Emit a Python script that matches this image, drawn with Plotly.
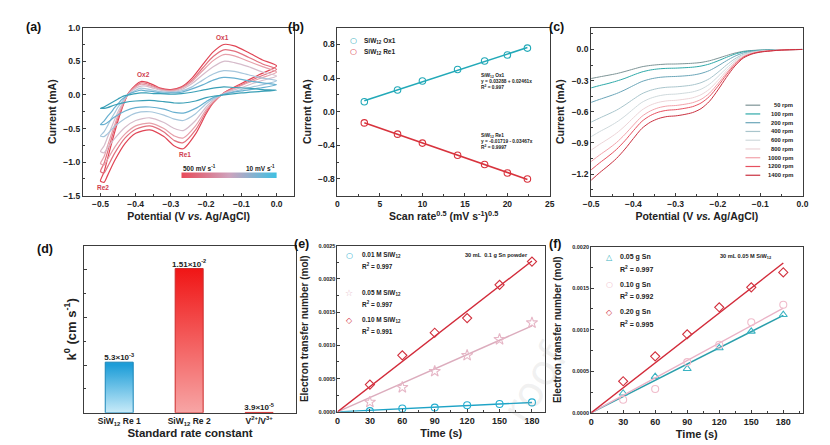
import numpy as np
import plotly.graph_objects as go
from plotly.subplots import make_subplots

W, H = 830, 445
FONT = "Liberation Sans"
DARK = "#222222"

# ---------------- (a) cyclic voltammetry ----------------
cv_rates = ["500", "400", "300", "200", "100", "50", "10"]
cv_potential = [0.0, -0.05, -0.10, -0.15, -0.18, -0.20, -0.23, -0.265, -0.29, -0.32, -0.36, -0.40, -0.43, -0.46,
                -0.48, -0.49, -0.50, -0.49, -0.48, -0.47, -0.46, -0.45, -0.44, -0.43, -0.42, -0.40, -0.385, -0.37,
                -0.35, -0.33, -0.30, -0.27, -0.24, -0.21, -0.18, -0.15, -0.12, -0.08, -0.04, 0.0]
cv_500 = [0.43, 0.30, 0.17, 0.03, -0.12, -0.28, -0.58, -0.80, -0.76, -0.62, -0.52, -0.57, -0.72, -0.98, -1.20, -1.30,
          -1.28, -1.15, -0.95, -0.75, -0.56, -0.38, -0.22, -0.08, 0.03, 0.15, 0.20, 0.19, 0.15, 0.10, 0.08, 0.12,
          0.25, 0.45, 0.64, 0.75, 0.73, 0.63, 0.52, 0.43]
cv_400 = [0.38, 0.27, 0.15, 0.03, -0.11, -0.25, -0.52, -0.71, -0.68, -0.55, -0.46, -0.51, -0.64, -0.87, -1.07, -1.16,
          -1.14, -1.02, -0.85, -0.67, -0.50, -0.34, -0.20, -0.07, 0.03, 0.13, 0.18, 0.17, 0.13, 0.09, 0.07, 0.11,
          0.22, 0.40, 0.57, 0.67, 0.65, 0.56, 0.46, 0.38]
cv_300 = [0.34, 0.24, 0.14, 0.02, -0.10, -0.22, -0.46, -0.64, -0.61, -0.50, -0.42, -0.46, -0.58, -0.78, -0.96, -1.04,
          -1.02, -0.92, -0.76, -0.60, -0.45, -0.30, -0.18, -0.06, 0.02, 0.12, 0.16, 0.15, 0.12, 0.08, 0.06, 0.10,
          0.20, 0.36, 0.51, 0.60, 0.58, 0.50, 0.42, 0.34]
cv_200 = [0.28, 0.20, 0.11, 0.02, -0.08, -0.18, -0.38, -0.53, -0.50, -0.41, -0.34, -0.38, -0.48, -0.65, -0.79, -0.86,
          -0.84, -0.76, -0.63, -0.50, -0.37, -0.25, -0.15, -0.05, 0.02, 0.10, 0.13, 0.13, 0.10, 0.07, 0.05, 0.08,
          0.17, 0.30, 0.42, 0.50, 0.48, 0.42, 0.34, 0.28]
cv_100 = [0.21, 0.14, 0.08, 0.01, -0.06, -0.13, -0.28, -0.38, -0.36, -0.30, -0.25, -0.27, -0.35, -0.47, -0.58, -0.62,
          -0.61, -0.55, -0.46, -0.36, -0.27, -0.18, -0.11, -0.04, 0.01, 0.07, 0.10, 0.09, 0.07, 0.05, 0.04, 0.06,
          0.12, 0.22, 0.31, 0.36, 0.35, 0.30, 0.25, 0.21]
cv_50 = [0.15, 0.10, 0.06, 0.01, -0.04, -0.10, -0.20, -0.27, -0.26, -0.21, -0.18, -0.19, -0.24, -0.33, -0.41, -0.44,
         -0.44, -0.39, -0.32, -0.26, -0.19, -0.13, -0.07, -0.03, 0.01, 0.05, 0.07, 0.06, 0.05, 0.03, 0.03, 0.04,
         0.09, 0.15, 0.22, 0.26, 0.25, 0.21, 0.18, 0.15]
cv_10 = [0.07, 0.05, 0.03, 0.00, -0.02, -0.04, -0.09, -0.12, -0.12, -0.10, -0.08, -0.09, -0.11, -0.15, -0.19, -0.20,
         -0.20, -0.18, -0.15, -0.12, -0.09, -0.06, -0.03, -0.01, 0.00, 0.02, 0.03, 0.03, 0.02, 0.02, 0.01, 0.02,
         0.04, 0.07, 0.10, 0.12, 0.11, 0.10, 0.08, 0.07]
cv_currents = [cv_500, cv_400, cv_300, cv_200, cv_100, cv_50, cv_10]
cv_colors = ["#e04454", "#e2707e", "#e6a0aa", "#d6bccb", "#a6c6dc", "#68b0d0", "#3a9fb6"]
cv_peaks = ["Ox1", "Ox2", "Re1", "Re2"]
cv_peak_pos = [(-0.154, 0.86), (-0.377, 0.30), (-0.26, -0.89), (-0.494, -1.38)]

# ---------------- (b) peak current vs sqrt(scan rate) ----------------
scan_rate_sqrt = [3.16, 7.07, 10.0, 14.14, 17.32, 20.0, 22.36]
ox1_current = [0.118, 0.259, 0.365, 0.502, 0.604, 0.675, 0.757]
re1_current = [-0.133, -0.267, -0.373, -0.518, -0.627, -0.729, -0.800]
b_names = ["SiW<sub>12</sub> Ox1", "SiW<sub>12</sub> Re1"]
b_eq = ["SiW<sub>12</sub> Ox1<br>y = 0.03288 + 0.02461x<br>R<sup>2</sup> = 0.997",
        "SiW<sub>12</sub> Re1<br>y = -0.01719 - 0.03467x<br>R<sup>2</sup> = 0.9997"]
b_colors = ["#22a9b8", "#d8333d"]

# ---------------- (c) rotating disk LSV ----------------
lsv_potential = [-0.50, -0.48, -0.46, -0.44, -0.42, -0.40, -0.38, -0.36, -0.34, -0.32, -0.30, -0.28, -0.26,
                 -0.24, -0.22, -0.20, -0.18, -0.16, -0.14, -0.12, -0.10, -0.05, 0.0]
lsv_labels = ["50 rpm", "100 rpm", "200 rpm", "400 rpm", "600 rpm", "800 rpm", "1000 rpm", "1200 rpm", "1400 rpm"]
lsv_50 = [-0.280, -0.264, -0.249, -0.233, -0.212, -0.189, -0.167, -0.154, -0.146, -0.141, -0.140, -0.137, -0.133,
          -0.125, -0.109, -0.085, -0.059, -0.035, -0.018, -0.010, -0.006, -0.001, 0.0]
lsv_100 = [-0.370, -0.348, -0.328, -0.305, -0.278, -0.246, -0.217, -0.198, -0.187, -0.182, -0.180, -0.176, -0.171,
           -0.160, -0.140, -0.110, -0.076, -0.045, -0.023, -0.013, -0.007, -0.002, 0.0]
lsv_200 = [-0.510, -0.481, -0.454, -0.425, -0.389, -0.348, -0.309, -0.285, -0.270, -0.263, -0.260, -0.255, -0.247,
           -0.231, -0.203, -0.159, -0.109, -0.065, -0.034, -0.018, -0.010, -0.003, 0.0]
lsv_400 = [-0.700, -0.661, -0.624, -0.585, -0.535, -0.479, -0.427, -0.394, -0.374, -0.364, -0.360, -0.353, -0.342,
           -0.320, -0.281, -0.220, -0.151, -0.090, -0.047, -0.025, -0.014, -0.004, 0.0]
lsv_600 = [-0.840, -0.792, -0.749, -0.701, -0.642, -0.574, -0.510, -0.471, -0.447, -0.434, -0.430, -0.421, -0.409,
           -0.383, -0.335, -0.262, -0.181, -0.108, -0.056, -0.030, -0.017, -0.004, 0.0]
lsv_800 = [-0.970, -0.914, -0.863, -0.807, -0.737, -0.658, -0.584, -0.537, -0.509, -0.495, -0.490, -0.480, -0.466,
           -0.436, -0.382, -0.299, -0.206, -0.123, -0.064, -0.034, -0.020, -0.005, 0.0]
lsv_1000 = [-1.080, -1.017, -0.960, -0.897, -0.818, -0.729, -0.645, -0.593, -0.561, -0.545, -0.540, -0.529, -0.513,
            -0.481, -0.421, -0.329, -0.227, -0.135, -0.070, -0.038, -0.022, -0.005, 0.0]
lsv_1200 = [-1.160, -1.093, -1.031, -0.963, -0.879, -0.783, -0.693, -0.637, -0.603, -0.586, -0.580, -0.568, -0.551,
            -0.516, -0.452, -0.354, -0.244, -0.145, -0.075, -0.041, -0.023, -0.006, 0.0]
lsv_1400 = [-1.260, -1.188, -1.122, -1.050, -0.960, -0.858, -0.761, -0.701, -0.665, -0.646, -0.640, -0.627, -0.608,
            -0.570, -0.499, -0.390, -0.269, -0.160, -0.083, -0.045, -0.026, -0.006, 0.0]
lsv_currents = [lsv_50, lsv_100, lsv_200, lsv_400, lsv_600, lsv_800, lsv_1000, lsv_1200, lsv_1400]
lsv_colors = ["#7d9496", "#2fa9a9", "#6aa5b8", "#a9c5cc", "#cfd9dc", "#ecd4d7", "#f2a2aa", "#e6505f", "#c9303f"]

# ---------------- (d) standard rate constants ----------------
k0_categories = ["SiW<sub>12</sub> Re 1", "SiW<sub>12</sub> Re 2", "V<sup>2+</sup>/V<sup>3+</sup>"]
k0_values = [5.3e-3, 1.51e-2, 3.9e-5]
k0_labels = ["5.3×10<sup>-3</sup>", "1.51×10<sup>-2</sup>", "3.9×10<sup>-5</sup>"]
k0_gradients = [[[0, "#d6f1fb"], [1, "#1c9dd8"]],
                [[0, "#f7a9a9"], [1, "#f01616"]],
                [[0, "#e03030"], [1, "#e03030"]]]
k0_edges = ["#1a86b8", "#cc2a2a", "#d02828"]

# ---------------- (e) electron transfer, SiW12 concentration ----------------
time_s = [30, 60, 90, 120, 150, 180]
e_names = ["0.01 M SiW<sub>12</sub>", "0.05 M SiW<sub>12</sub>", "0.10 M SiW<sub>12</sub>"]
e_r2 = ["R<sup>2</sup> = 0.997", "R<sup>2</sup> = 0.997", "R<sup>2</sup> = 0.991"]
e_001 = [0.00001, 0.00005, 0.000064, 0.0001, 0.000118, 0.000142]
e_005 = [0.000147, 0.000368, 0.00061, 0.00085, 0.00109, 0.00134]
e_010 = [0.00041, 0.00085, 0.00119, 0.00141, 0.00191, 0.00226]
e_series = [e_001, e_005, e_010]
e_symbols = ["circle-open", "star-open", "diamond-open"]
e_glyphs = ["○", "☆", "◇"]
e_marker_colors = ["#25aed0", "#e6b6c6", "#d2323f"]
e_line_colors = ["#1ea3c6", "#dcacbd", "#d22b3a"]

# ---------------- (f) electron transfer, Sn amount ----------------
f_names = ["0.05 g Sn", "0.10 g Sn", "0.20 g Sn"]
f_r2 = ["R<sup>2</sup> = 0.997", "R<sup>2</sup> = 0.992", "R<sup>2</sup> = 0.995"]
f_005 = [0.000235, 0.000435, 0.00053, 0.00078, 0.00098, 0.00118]
f_010 = [0.000157, 0.000286, 0.00061, 0.00082, 0.00109, 0.00130]
f_020 = [0.00038, 0.00068, 0.000945, 0.00127, 0.00151, 0.00169]
f_series = [f_005, f_010, f_020]
f_symbols = ["triangle-up-open", "circle-open", "diamond-open"]
f_glyphs = ["△", "○", "◇"]
f_marker_colors = ["#3ab3c2", "#f0bccb", "#d2323f"]
f_line_colors = ["#2a9eab", "#eab2c6", "#d22b3a"]

# =====================================================================
fig = make_subplots(rows=2, cols=3)


def pp(x, y):
    return x / W, 1 - y / H


def text_px(text, x, y, size, color=DARK, xanchor="left", yanchor="middle", bold=True, family=FONT, **kw):
    xp, yp = pp(x, y)
    fig.add_annotation(text=text, x=xp, y=yp, xref="paper", yref="paper", showarrow=False,
                       xanchor=xanchor, yanchor=yanchor,
                       font=dict(family=family, size=size, color=color, weight="bold" if bold else "normal"), **kw)


# faint watermark (drawn first, behind other annotations)
text_px("roof", 528, 378, 42, color="rgba(170,170,170,0.16)", xanchor="center", bold=False,
        family="DejaVu Sans", textangle=-58)

# (a)
for rate, cur, col in zip(cv_rates, cv_currents, cv_colors):
    fig.add_trace(go.Scatter(x=cv_potential, y=cur, mode="lines", name=rate + " mV/s",
                             line=dict(color=col, width=1.2, shape="spline", smoothing=0.7)), row=1, col=1)
fig.add_trace(go.Scatter(x=[-0.27, 0.0, 0.0, -0.27, -0.27], y=[-1.155, -1.155, -1.235, -1.235, -1.155],
                         mode="lines", fill="toself", line=dict(width=0, color="rgba(0,0,0,0)"),
                         fillgradient=dict(type="horizontal",
                                           colorscale=[[0, "#e84a5a"], [0.5, "#cfa3bd"], [1, "#3fc0e2"]]),
                         hoverinfo="skip"), row=1, col=1)
for lab, (px_, py_) in zip(cv_peaks, cv_peak_pos):
    fig.add_annotation(text=lab, x=px_, y=py_, xref="x", yref="y", showarrow=False,
                       font=dict(family=FONT, size=6.5, color="#d0404e", weight="bold"))
fig.add_annotation(text="500 mV s<sup>-1</sup>", x=-0.27, y=-1.09, xref="x", yref="y", showarrow=False,
                   xanchor="left", font=dict(family=FONT, size=6.5, color=DARK, weight="bold"))
fig.add_annotation(text="10 mV s<sup>-1</sup>", x=0.0, y=-1.09, xref="x", yref="y", showarrow=False,
                   xanchor="right", font=dict(family=FONT, size=6.5, color=DARK, weight="bold"))

# (b)
for ys, col, nm in zip([ox1_current, re1_current], b_colors, b_names):
    slope, icpt = np.polyfit(scan_rate_sqrt, ys, 1)
    xl = np.array([min(scan_rate_sqrt), max(scan_rate_sqrt)])
    fig.add_trace(go.Scatter(x=xl, y=icpt + slope * xl, mode="lines", line=dict(color=col, width=1.6),
                             showlegend=False), row=1, col=2)
    fig.add_trace(go.Scatter(x=scan_rate_sqrt, y=ys, mode="markers", name=nm,
                             marker=dict(symbol="circle-open", size=6.5, color=col, line=dict(width=1.1))),
                  row=1, col=2)

# (c)
for lab, cur, col in zip(lsv_labels, lsv_currents, lsv_colors):
    fig.add_trace(go.Scatter(x=lsv_potential, y=cur, mode="lines", name=lab,
                             line=dict(color=col, width=1.0, shape="spline", smoothing=0.8)), row=1, col=3)

# (d)
for i, (v, cs, edge) in enumerate(zip(k0_values, k0_gradients, k0_edges)):
    fig.add_trace(go.Scatter(x=[i - 0.2, i - 0.2, i + 0.2, i + 0.2, i - 0.2], y=[0, v, v, 0, 0],
                             mode="lines", fill="toself", line=dict(color=edge, width=1),
                             fillgradient=dict(type="vertical", colorscale=cs, start=0, stop=max(v, 1e-9)),
                             hoverinfo="skip"), row=2, col=1)
fig.add_trace(go.Scatter(x=list(range(len(k0_values))), y=k0_values, mode="text", text=k0_labels,
                         textposition="top center",
                         textfont=dict(family=FONT, size=8, color=DARK, weight="bold")), row=2, col=1)

# (e)
for ys, sym, mc, lc in zip(e_series, e_symbols, e_marker_colors, e_line_colors):
    slope = float(np.dot(time_s, ys) / np.dot(time_s, time_s))
    xl = np.array([0, max(time_s)])
    fig.add_trace(go.Scatter(x=xl, y=slope * xl, mode="lines", line=dict(color=lc, width=1.4)), row=2, col=2)
    fig.add_trace(go.Scatter(x=time_s, y=ys, mode="markers",
                             marker=dict(symbol=sym, size=7 if sym != "star-open" else 8.5, color=mc,
                                         line=dict(width=1.1))), row=2, col=2)

# (f)
for ys, sym, mc, lc in zip(f_series, f_symbols, f_marker_colors, f_line_colors):
    slope = float(np.dot(time_s, ys) / np.dot(time_s, time_s))
    xl = np.array([0, max(time_s)])
    fig.add_trace(go.Scatter(x=xl, y=slope * xl, mode="lines", line=dict(color=lc, width=1.4)), row=2, col=3)
    fig.add_trace(go.Scatter(x=time_s, y=ys, mode="markers",
                             marker=dict(symbol=sym, size=7, color=mc, line=dict(width=1.1))), row=2, col=3)

# ---------------- axes ----------------
TICKF = dict(family=FONT, size=8.5, color=DARK, weight="bold")
TITLEF = dict(family=FONT, size=10.5, color=DARK, weight="bold")
BIGTICK = dict(family=FONT, size=9, color=DARK, weight="bold")
BIGTITLE = dict(family=FONT, size=11, color=DARK, weight="bold")
ETITLE = dict(family=FONT, size=10, color=DARK, weight="bold")
SMALLTICK = dict(family=FONT, size=5.5, color=DARK, weight="bold")


def axis(minor_dtick=None, **kw):
    base = dict(showline=True, linecolor="#3c3c3c", linewidth=1, mirror=True, ticks="inside", ticklen=3,
                tickwidth=1, tickcolor="#3c3c3c", showgrid=False, zeroline=False, tickfont=TICKF,
                title_font=TITLEF)
    if minor_dtick is not None:
        base["minor"] = dict(ticks="inside", dtick=minor_dtick, ticklen=1.8, tickcolor="#3c3c3c", showgrid=False)
    base.update(kw)
    return base


def dom_x(a, b):
    return [a / W, b / W]


def dom_y(top, bottom):
    return [1 - bottom / H, 1 - top / H]


fig.update_layout(
    xaxis=axis(minor_dtick=0.05, domain=dom_x(68, 283), range=[-0.55, 0.05],
               tickvals=[-0.5, -0.4, -0.3, -0.2, -0.1, 0.0],
               tickformat=".1f", title=dict(text="Potential (V <i>vs.</i> Ag/AgCl)", standoff=4)),
    yaxis=axis(minor_dtick=0.25, domain=dom_y(15, 187), range=[-1.5, 1.0], dtick=0.5, tickformat=".1f",
               title=dict(text="Current (mA)", standoff=4)),
    xaxis2=axis(minor_dtick=2.5, domain=dom_x(327, 543), range=[0, 25], dtick=5,
                title=dict(text="Scan rate<sup>0.5</sup> (mV s<sup>-1</sup>)<sup>0.5</sup>", standoff=4)),
    yaxis2=axis(minor_dtick=0.2, domain=dom_y(15, 187), range=[-1.0, 1.0], tickvals=[-0.8, -0.4, 0.0, 0.4, 0.8],
                tickformat=".1f", title=dict(text="Current (mA)", standoff=4)),
    xaxis3=axis(minor_dtick=0.05, domain=dom_x(585, 800), range=[-0.5, 0.0], dtick=0.1, tickformat=".1f",
                title=dict(text="Potential (V <i>vs.</i> Ag/AgCl)", standoff=4)),
    yaxis3=axis(minor_dtick=0.15, domain=dom_y(15, 187), range=[-1.41, 0.21], tickvals=[-1.2, -0.9, -0.6, -0.3, 0.0],
                tickformat=".1f", title=dict(text="Current (mA)", standoff=4)),
    xaxis4=axis(domain=dom_x(69, 285), range=[-0.506, 2.53], tickvals=[0, 1, 2], ticktext=k0_categories,
                ticks="", tickfont=dict(family=FONT, size=8.5, color=DARK, weight="bold"),
                title=dict(text="Standard rate constant", standoff=1,
                           font=dict(family=FONT, size=11.5, color=DARK, weight="bold"))),
    yaxis4=axis(domain=dom_y(238, 409), range=[0, 0.0175], dtick=0.005, showticklabels=False,
                minor=dict(ticks="inside", dtick=0.0025, ticklen=2, tickcolor="#3c3c3c"),
                title=dict(text="k<sup>0</sup> (cm s<sup>-1</sup>)", standoff=3,
                           font=dict(family=FONT, size=13, color=DARK, weight="bold"))),
    xaxis5=axis(minor_dtick=15, domain=dom_x(327, 538), range=[0, 192], tickvals=[0, 30, 60, 90, 120, 150, 180],
                tickfont=BIGTICK, title=dict(text="Time (s)", standoff=4, font=BIGTITLE)),
    yaxis5=axis(minor_dtick=0.00025, domain=dom_y(238, 408), range=[0, 0.0025], dtick=0.0005, tickformat=".4f",
                tickfont=SMALLTICK, title=dict(text="Electron transfer number (mol)", standoff=8, font=ETITLE)),
    xaxis6=axis(minor_dtick=15, domain=dom_x(585, 800), range=[0, 198], tickvals=[0, 30, 60, 90, 120, 150, 180],
                tickfont=BIGTICK, title=dict(text="Time (s)", standoff=4, font=BIGTITLE)),
    yaxis6=axis(minor_dtick=0.00025, domain=dom_y(239, 409), range=[0, 0.002], dtick=0.0005, tickformat=".4f",
                tickfont=SMALLTICK, title=dict(text="Electron transfer number (mol)", standoff=8, font=ETITLE)),
)

# ---------------- manual legends & labels ----------------
# (b) legend
for i, (nm, col) in enumerate(zip(b_names, b_colors)):
    text_px("○", 343, 28.5 + 11 * i, 8, color=col, xanchor="center", bold=False, family="DejaVu Sans")
    text_px(nm, 352, 28.5 + 11 * i, 6.5, color=DARK)
for i, eq in enumerate(b_eq):
    text_px(eq, 471, 70 + 61.5 * i, 4.8, color=DARK, align="left")

# (c) legend
for i, (lab, col) in enumerate(zip(lsv_labels, lsv_colors)):
    yy = 94.3 + 8.96 * i
    x0, y0 = pp(742, yy)
    x1, _ = pp(757, yy)
    fig.add_shape(type="line", x0=x0, x1=x1, y0=y0, y1=y0, xref="paper", yref="paper",
                  line=dict(color=col, width=1.2))
    text_px(lab, 792, yy, 5.8, color=DARK, xanchor="right")

# (e) legend
e_rows = [248, 286.5, 314.5]
for i in range(3):
    y0 = e_rows[i]
    text_px(e_glyphs[i], 339, y0, 8 if i != 1 else 9, color=e_marker_colors[i], xanchor="center",
            bold=False, family="DejaVu Sans")
    text_px(e_names[i], 350, y0, 6.4)
    text_px(e_r2[i], 350, y0 + 11, 6.4)
text_px("30 mL  0.1 g Sn powder", 523, 248, 5.6, xanchor="right")

# (f) legend
f_rows = [250, 278, 306]
for i in range(3):
    y0 = f_rows[i]
    text_px(f_glyphs[i], 604, y0, 8, color=f_marker_colors[i], xanchor="center",
            bold=False, family="DejaVu Sans")
    text_px(f_names[i], 612, y0, 7)
    text_px(f_r2[i], 612, y0 + 12, 7)
text_px("30 mL 0.05 M SiW<sub>12</sub>", 771, 249, 5.6, xanchor="right")

# panel letters
for lab, x, y in [("(a)", 18, 14), ("(b)", 285, 14), ("(c)", 550, 14),
                  ("(d)", 30, 241), ("(e)", 290, 236), ("(f)", 549, 236)]:
    text_px(lab, x, y, 12.5, color="#111111", xanchor="center")

fig.update_layout(width=W, height=H, margin=dict(l=0, r=0, t=0, b=0), showlegend=False,
                  paper_bgcolor="white", plot_bgcolor="white", font=dict(family=FONT, color=DARK))

fig.write_html("out.html")
